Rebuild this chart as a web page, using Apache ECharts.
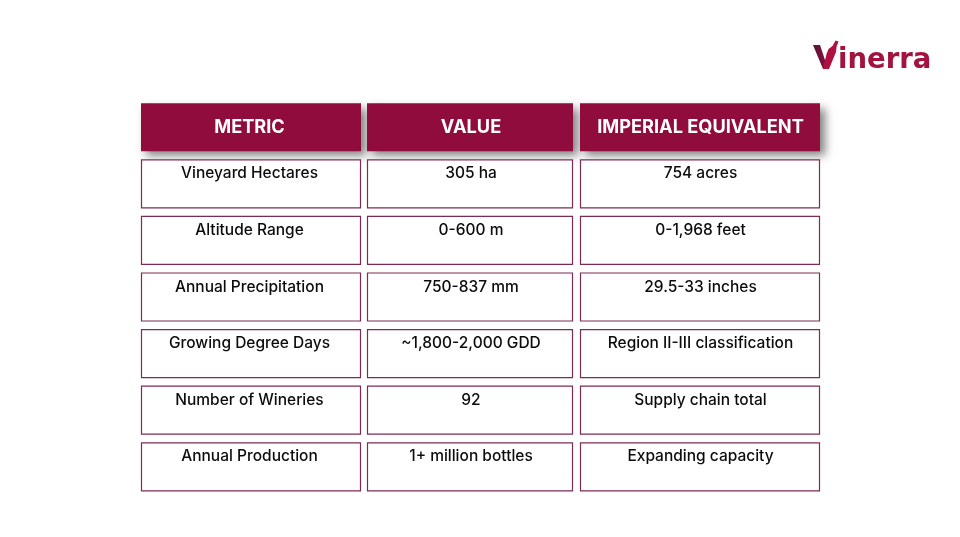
<!DOCTYPE html>
<html><head><meta charset="utf-8">
<style>html,body{margin:0;padding:0;background:#fff}#c{width:960px;height:537px}</style>
<script src="https://cdn.jsdelivr.net/npm/echarts@6/dist/echarts.min.js"></script>
</head><body><div id="c"></div>
<script>
const headers = ['METRIC', 'VALUE', 'IMPERIAL EQUIVALENT'];
const metrics = ['Vineyard Hectares','Altitude Range','Annual Precipitation','Growing Degree Days','Number of Wineries','Annual Production'];
const values = ['305 ha','0-600 m','750-837 mm','~1,800-2,000 GDD','92','1+ million bottles'];
const imperial = ['754 acres','0-1,968 feet','29.5-33 inches','Region II-III classification','Supply chain total','Expanding capacity'];
const brandName = 'inerra';

const columnEdges = [[141,361],[367,573],[580,820]];
const textCentres = [249.5,471,700.5];
const rowKeys = ['h','r0','r1','r2','r3','r4','r5'];
const FONT = 'Inter, "Noto Sans", sans-serif';
const cells = [];
headers.forEach((t,c)=>cells.push([c,'h',t,1]));
[metrics,values,imperial].forEach((col,c)=>col.forEach((t,r)=>cells.push([c,'r'+r,t,0])));

const chart = echarts.init(document.getElementById('c'),null,{renderer:'canvas'});
chart.setOption({
  animation:false,
  backgroundColor:'#fff',
  grid:{left:0,right:0,top:98.9,height:396.2},
  xAxis:{type:'value',min:0,max:960,show:false},
  yAxis:{type:'category',data:rowKeys,inverse:true,show:false},
  series:[{
    type:'custom',
    coordinateSystem:'cartesian2d',
    encode:{y:1},
    data:cells,
    clip:false,
    renderItem(params,api){
      const c=api.value(0), isH=api.value(3)===1;
      const cy=api.coord([0,cells[params.dataIndex][1]])[1];
      const [x0,x1]=columnEdges[c];
      const text=cells[params.dataIndex][2];
      const cx=textCentres[c];
      if(isH){
        return {type:'group',children:[
          {type:'rect',shape:{x:x0,y:cy-24,width:x1-x0,height:48},
           style:{fill:'#8f0c3c',shadowBlur:9,shadowColor:'rgba(0,0,0,0.5)',shadowOffsetX:5,shadowOffsetY:5}},
          {type:'text',x:cx,y:cy,style:{text,fill:'#fff',font:'700 18.2px '+FONT,align:'center',verticalAlign:'middle'}}
        ]};
      }
      return {type:'group',children:[
        {type:'rect',shape:{x:x0+0.5,y:cy-24,width:x1-x0-1,height:48},
         style:{fill:'#fff',stroke:'#7d2a57',lineWidth:1.2}},
        {type:'text',x:cx,y:cy-10,style:{text,fill:'#0c0c0c',font:'500 15.5px '+FONT,align:'center',verticalAlign:'middle'}}
      ]};
    }
  }],
  graphic:[
    {type:'polygon',shape:{points:[[813,45],[820,45],[828,69],[823,69]]},
     style:{fill:new echarts.graphic.LinearGradient(0,0,1,0,[{offset:0,color:'#571238'},{offset:1,color:'#8f1040'}])}},
    {type:'polygon',shape:{points:[[823,69],[829,69],[836,52],[836.5,47],[838.5,41.5],[835.5,40.5],[832.5,46],[828.5,49],[826.5,54]]},
     style:{fill:'#b01040'}},
    {type:'text',x:838,y:60.5,style:{text:brandName,fill:'#a2133f',font:'700 27.5px "DejaVu Sans", sans-serif',verticalAlign:'middle',align:'left'}}
  ]
});
</script></body></html>
